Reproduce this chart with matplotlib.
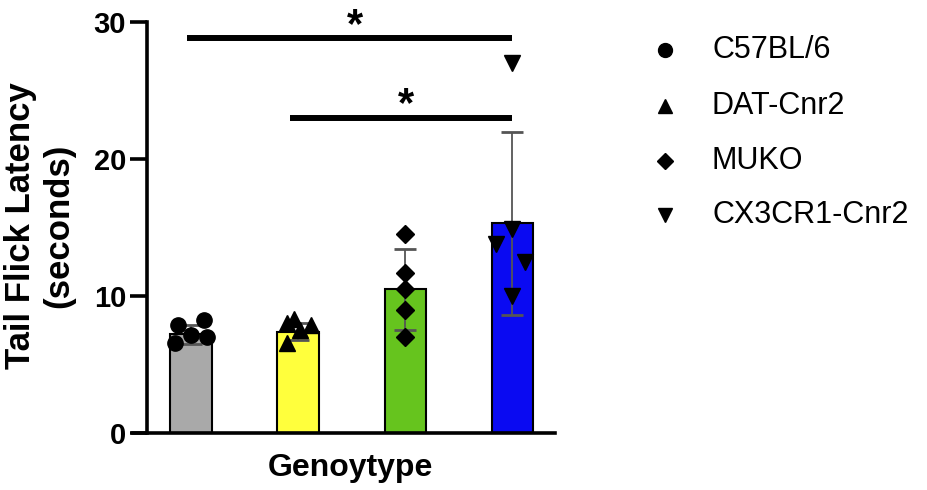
import matplotlib
matplotlib.use("Agg")
import matplotlib.pyplot as plt
from matplotlib.lines import Line2D

plt.rcParams['font.family'] = ['Liberation Sans', 'DejaVu Sans']

# groups and summary values
groups = ['C57BL/6', 'DAT-Cnr2', 'MUKO', 'CX3CR1-Cnr2']
means = [7.2, 7.4, 10.5, 15.3]
sds = [0.7, 0.6, 2.95, 6.7]
colors = ['#a9a9a9', '#ffff3c', '#66c41e', '#0a0af2']
markers = ['o', '^', 'D', 'v']

# individual animals
pts_wt = [7.9, 8.25, 6.6, 7.0, 7.15]
pts_dat = [8.0, 8.3, 7.9, 7.5, 6.6]
pts_muko = [14.5, 11.7, 10.5, 9.0, 7.0]
pts_cx3 = [27.0, 14.9, 13.8, 12.5, 10.0]
jit_wt = [-0.12, 0.12, -0.15, 0.15, 0.0]
jit_dat = [-0.1, -0.04, 0.12, 0.02, -0.1]
jit_muko = [0, 0, 0, 0, 0]
jit_cx3 = [0.0, 0.0, -0.15, 0.12, 0.0]
points = [pts_wt, pts_dat, pts_muko, pts_cx3]
jitter = [jit_wt, jit_dat, jit_muko, jit_cx3]

# significance bars: (start, end, height)
sig = [(-0.04, 3.0, 28.8), (0.92, 3.0, 23.0)]

fig = plt.figure(figsize=(9.27, 4.9), dpi=100)
ax = fig.add_axes([0.1435, 0.1163, 0.4552, 0.8388])

x = list(range(len(groups)))
ax.bar(x, means, width=0.385, color=colors, edgecolor='black', linewidth=1.5, zorder=2)
ax.errorbar(x, means, yerr=sds, fmt='none', ecolor='#555555', elinewidth=1.3,
            capsize=8, capthick=2, zorder=3)
for i in x:
    xs = [i + j for j in jitter[i]]
    ms = 11 if markers[i] != 'D' else 9
    ax.plot(xs, points[i], linestyle='none', marker=markers[i], color='black',
            markersize=ms, zorder=4, clip_on=False)

for x0, x1, h in sig:
    ax.plot([x0, x1], [h, h], color='black', linewidth=4.3, solid_capstyle='butt',
            clip_on=False, zorder=5)
    ax.text((x0 + x1) / 2 + 0.05, h + 0.1, '*', ha='center', va='baseline',
            fontsize=30, fontweight='bold')

ax.set_xlim(-0.542, 3.40)
ax.set_ylim(0, 30)
ax.set_yticks([0, 10, 20, 30])
ax.set_xticks([])
ax.spines['top'].set_visible(False)
ax.spines['right'].set_visible(False)
ax.spines['left'].set_position(('data', -0.411))
ax.spines['left'].set_linewidth(2.6)
ax.spines['bottom'].set_linewidth(2.6)
ax.tick_params(axis='y', length=12, width=2.6, pad=3, labelsize=21)
for lab in ax.get_yticklabels():
    lab.set_fontweight('bold')

fig.text(0.043, 1 - 226 / 490, 'Tail Flick Latency\n(seconds)', rotation=90, ha='center',
         va='center', fontsize=25, fontweight='bold', linespacing=1.2)
fig.text(350 / 927, 1 - 468 / 490, 'Genoytype', ha='center', va='center',
         fontsize=23, fontweight='bold')

# legend on the right
rows_y = [50, 106, 161, 215]
for name, m, yy in zip(groups, markers, rows_y):
    fy = 1 - yy / 490
    fig.add_artist(Line2D([665 / 927], [fy], marker=m, color='black', linestyle='none',
                          markersize=10 if m != 'D' else 8))
    fig.text(712 / 927, fy, name, ha='left', va='center', fontsize=22)

fig.savefig('out.png', dpi=100)
